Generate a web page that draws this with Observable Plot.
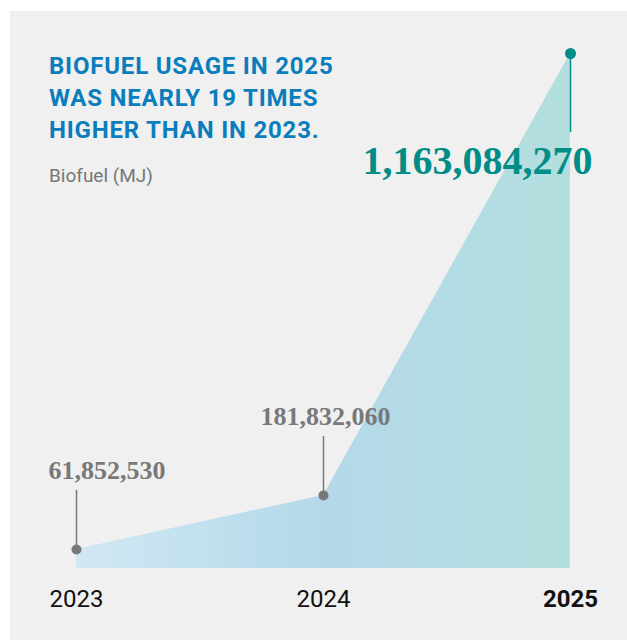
<!DOCTYPE html>
<html>
<head>
<meta charset="utf-8">
<script src="https://cdn.jsdelivr.net/npm/d3@7"></script>
<script src="https://cdn.jsdelivr.net/npm/@observablehq/plot@0.6"></script>
<style>
  html, body { margin: 0; padding: 0; background: #ffffff; }
  #panel {
    position: absolute; left: 10px; top: 11px;
    width: 617px; height: 629px;
    background: #f0f0f0; overflow: hidden;
  }
  #title {
    position: absolute; left: 39px; top: 39px;
    font-family: Roboto, sans-serif; font-weight: 700;
    font-size: 24px; line-height: 32px; letter-spacing: 0.8px;
    color: #0a7dbc; margin: 0;
  }
  #subtitle {
    position: absolute; left: 39px; top: 155px;
    font-family: Roboto, sans-serif; font-weight: 400;
    font-size: 19px; line-height: 20px;
    color: #767676; margin: 0;
  }
  #chart { position: absolute; left: 0; top: 0; }
</style>
</head>
<body>
<div id="panel">
  <div id="chart"></div>
  <div id="title">BIOFUEL USAGE IN 2025<br>WAS NEARLY 19 TIMES<br>HIGHER THAN IN 2023.</div>
  <div id="subtitle">Biofuel (MJ)</div>
</div>
<script>
// Annual biofuel usage, megajoules
const years = [2023, 2024, 2025];
const biofuelMJ = [61852530, 181832060, 1163084270];
const tickLabels = ["2023", "2024", "2025"];

const data = years.map((year, i) => ({year, value: biofuelMJ[i], label: tickLabels[i]}));
const past = data.filter(d => d.year !== 2025);
const latest = data.filter(d => d.year === 2025);

const gray = "#78787a";
const teal = "#008d88";
const serif = "'Liberation Serif', 'DejaVu Serif', serif";
const sans = "Roboto, sans-serif";

// Horizontal blue-to-teal wash for the area
const gradient = () => {
  const defs = d3.create("svg:defs");
  const lg = defs.append("linearGradient")
    .attr("id", "fuelWash")
    .attr("x1", "0").attr("x2", "1").attr("y1", "0").attr("y2", "0");
  lg.append("stop").attr("offset", "0%").attr("stop-color", "#d1e8f3");
  lg.append("stop").attr("offset", "50%").attr("stop-color", "#b4d8ea");
  lg.append("stop").attr("offset", "100%").attr("stop-color", "#b3dfde");
  return defs.node();
};

const chart = Plot.plot({
  width: 617,
  height: 629,
  marginLeft: 66,
  marginRight: 57,
  marginTop: 42,
  marginBottom: 72,
  style: {background: "transparent", overflow: "visible"},
  x: {type: "linear", domain: [2023, 2025], axis: null},
  y: {domain: [19500000, 1163084270], axis: null},
  marks: [
    gradient,
    Plot.areaY(data, {x: "year", y: "value", fill: "url(#fuelWash)", clip: true}),
    // leader stems
    Plot.ruleX(past, {x: "year", y1: "value", y2: "value", insetTop: -59, stroke: gray, strokeWidth: 1.5}),
    Plot.ruleX(latest, {x: "year", y1: "value", y2: "value", insetBottom: -79, stroke: teal, strokeWidth: 1.5}),
    Plot.dot(past, {x: "year", y: "value", r: 5, fill: gray}),
    Plot.dot(latest, {x: "year", y: "value", r: 5.5, fill: teal}),
    // value labels
    Plot.text(data.filter(d => d.year === 2023), {
      x: "year", y: "value", text: d => d3.format(",")(d.value),
      textAnchor: "start", lineAnchor: "bottom", dx: -28, dy: -70,
      fontFamily: serif, fontWeight: "bold", fontSize: 26, fill: gray
    }),
    Plot.text(data.filter(d => d.year === 2024), {
      x: "year", y: "value", text: d => d3.format(",")(d.value),
      textAnchor: "middle", lineAnchor: "bottom", dx: 2, dy: -70,
      fontFamily: serif, fontWeight: "bold", fontSize: 26, fill: gray
    }),
    Plot.text(latest, {
      x: "year", y: "value", text: d => d3.format(",")(d.value),
      textAnchor: "end", lineAnchor: "bottom", dx: 22, dy: 120,
      fontFamily: serif, fontWeight: "bold", fontSize: 40, fill: teal
    }),
    // year labels
    Plot.text(past, {
      x: "year", text: "label", frameAnchor: "bottom", lineAnchor: "bottom", dy: 38,
      fontFamily: sans, fontSize: 24, fill: "#111"
    }),
    Plot.text(latest, {
      x: "year", text: "label", frameAnchor: "bottom", lineAnchor: "bottom", dy: 38,
      fontFamily: sans, fontWeight: "bold", fontSize: 24, fill: "#111"
    })
  ]
});

document.getElementById("chart").appendChild(chart);
</script>
</body>
</html>
